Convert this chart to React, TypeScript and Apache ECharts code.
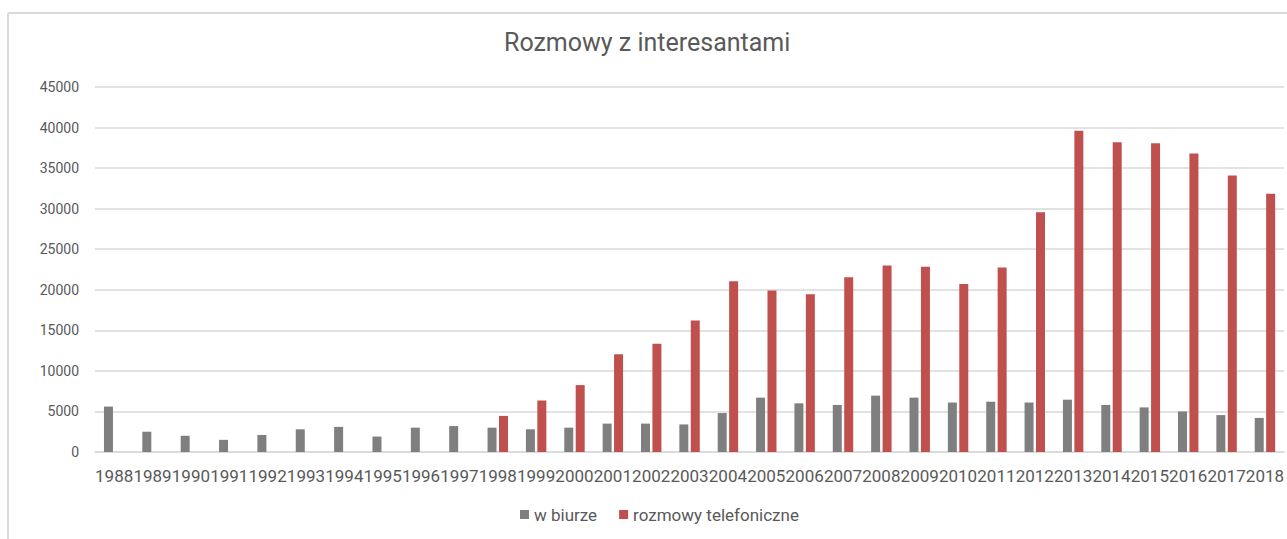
import React, { useEffect, useRef } from "react";
import * as echarts from "echarts";

const years = [
  "1988", "1989", "1990", "1991", "1992", "1993", "1994", "1995", "1996", "1997",
  "1998", "1999", "2000", "2001", "2002", "2003", "2004", "2005", "2006", "2007",
  "2008", "2009", "2010", "2011", "2012", "2013", "2014", "2015", "2016", "2017", "2018",
];

const wBiurze = [
  5600, 2500, 2000, 1500, 2100, 2800, 3100, 1900, 3000, 3200,
  3000, 2800, 3000, 3500, 3500, 3400, 4800, 6700, 6000, 5800,
  6950, 6700, 6100, 6200, 6100, 6450, 5800, 5500, 5000, 4550, 4200,
];

const rozmowyTelefoniczne = [
  null, null, null, null, null, null, null, null, null, null,
  4450, 6350, 8250, 12050, 13350, 16200, 21050, 19900, 19450, 21550,
  22980, 22850, 20720, 22750, 29550, 39600, 38200, 38050, 36800, 34100, 31850,
];

const yTicks = [0, 5000, 10000, 15000, 20000, 25000, 30000, 35000, 40000, 45000];

const FONT = "Roboto, 'Liberation Sans', sans-serif";

export default function App() {
  const ref = useRef<HTMLDivElement>(null);

  useEffect(() => {
    if (!ref.current) return;
    const chart = echarts.init(ref.current, undefined, { renderer: "svg" });
    chart.setOption({
      animation: false,
      backgroundColor: "#ffffff",
      textStyle: { fontFamily: FONT },
      title: {
        text: "Rozmowy z interesantami",
        left: 504,
        top: 30,
        padding: 0,
        textStyle: { fontFamily: FONT, fontSize: 25, fontWeight: "normal", color: "#595959" },
      },
      legend: {
        bottom: 11,
        left: 515,
        itemWidth: 9,
        itemHeight: 9,
        itemGap: 22,
        icon: "rect",
        textStyle: { fontFamily: FONT, fontSize: 17, color: "#595959" },
        data: ["w biurze", "rozmowy telefoniczne"],
      },
      grid: { left: 95, right: 0, top: 87, bottom: 87, containLabel: false },
      xAxis: {
        type: "category",
        data: years,
        axisLine: { lineStyle: { color: "#d9d9d9", width: 1.5 } },
        axisTick: { show: false },
        axisLabel: { color: "#595959", fontSize: 17, margin: 15, interval: 0, fontFamily: FONT },
      },
      yAxis: {
        type: "value",
        min: yTicks[0],
        max: yTicks[yTicks.length - 1],
        interval: 5000,
        axisLine: { show: false },
        axisTick: { show: false },
        splitLine: { lineStyle: { color: "#d9d9d9", width: 1.5 } },
        axisLabel: {
          color: "#595959",
          fontSize: 14,
          margin: 16,
          fontFamily: FONT,
          formatter: (v: number) => String(v),
        },
      },
      series: [
        {
          name: "w biurze",
          type: "bar",
          data: wBiurze,
          barWidth: 9,
          barGap: "27%",
          itemStyle: { color: "#7f7f7f" },
        },
        {
          name: "rozmowy telefoniczne",
          type: "bar",
          data: rozmowyTelefoniczne,
          barWidth: 9,
          itemStyle: { color: "#c0504d" },
        },
      ],
      graphic: [
        { type: "line", shape: { x1: 8, y1: 13, x2: 1287, y2: 13 }, style: { stroke: "#d9d9d9", lineWidth: 2 } },
        { type: "line", shape: { x1: 8, y1: 13, x2: 8, y2: 539 }, style: { stroke: "#d9d9d9", lineWidth: 2 } },
      ],
    });
    return () => chart.dispose();
  }, []);

  return (
    <div
      ref={ref}
      style={{ position: "fixed", left: 0, top: 0, width: 1287, height: 539 }}
    />
  );
}
